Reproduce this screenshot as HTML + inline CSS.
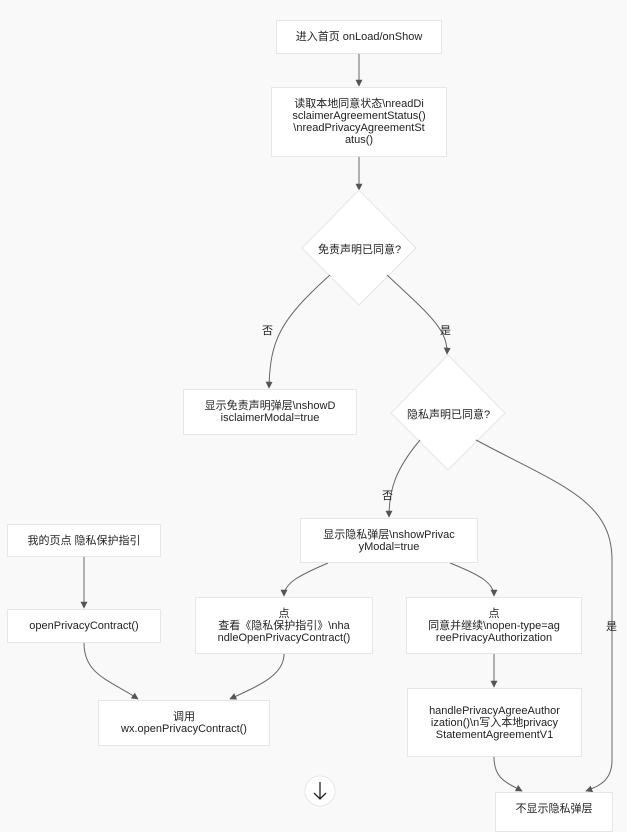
<!DOCTYPE html>
<html><head><meta charset="utf-8"><style>
body{margin:0;width:627px;height:822px;background:#f9f9f9;overflow:hidden;position:relative;font-family:"Liberation Sans","Noto Sans CJK SC",sans-serif;font-size:11px;color:#222}
.b{position:absolute;background:#fff;border:1px solid #e6e6e6;box-sizing:border-box;display:flex;align-items:center;justify-content:center;text-align:center;line-height:12px;padding:0 20px;word-break:break-all}
.b span{display:block}
.t{position:absolute;font-size:11px}
svg{position:absolute;left:0;top:0}
</style></head><body>
<svg width="627" height="822">
<defs>
<marker id="m" viewBox="0 0 10 10" refX="9" refY="5" markerWidth="7" markerHeight="7" orient="auto"><path d="M0,0L10,5L0,10z" fill="#555"/></marker></defs>
<g fill="none" stroke="#666" stroke-width="1">
<path d="M359 54V86" marker-end="url(#m)"/>
<path d="M359 157V190" marker-end="url(#m)"/>
<path d="M359 190L416 248L359 305L302 248Z" fill="#fff" stroke="#e6e6e6"/>
<path d="M448 355L505 413L448 470L391 413Z" fill="#fff" stroke="#e6e6e6"/>
<path d="M330 275C280 320 270 340 269 388" marker-end="url(#m)"/>
<path d="M387 275C430 315 448 330 447 354" marker-end="url(#m)"/>
<path d="M420 440C395 470 389 490 389 517" marker-end="url(#m)"/>
<path d="M476 440C560 485 612 500 612 560V760C612 780 600 786 586 791" marker-end="url(#m)"/>
<path d="M328 563C300 575 284 583 284 596" marker-end="url(#m)"/>
<path d="M450 563C480 575 494 583 494 596" marker-end="url(#m)"/>
<path d="M84 557V608" marker-end="url(#m)"/>
<path d="M84 643C84 675 110 680 138 699" marker-end="url(#m)"/>
<path d="M284 654C284 675 260 685 230 699" marker-end="url(#m)"/>
<path d="M494 654V687" marker-end="url(#m)"/>
<path d="M494 757C494 778 505 782 522 791" marker-end="url(#m)"/>
</g>
<circle cx="320" cy="791" r="15" fill="#fff" stroke="#e6e6e6"/>
<path d="M320 782V799M314 793L320 799L326 793" fill="none" stroke="#222" stroke-width="1.3"/>
</svg>
<div class="b" style="left:276px;top:20px;width:166px;height:34px;padding:0 4px">进入首页 onLoad/onShow</div>
<div class="b" style="left:271px;top:87px;width:176px;height:70px">读取本地同意状态\nreadDisclaimerAgreementStatus()\nreadPrivacyAgreementStatus()</div>
<div class="t" style="left:318px;top:241px">免责声明已同意?</div>
<div class="t" style="left:407px;top:406px">隐私声明已同意?</div>
<div class="t" style="left:262px;top:322px">否</div>
<div class="t" style="left:440px;top:322px">是</div>
<div class="t" style="left:382px;top:487px">否</div>
<div class="t" style="left:606px;top:618px">是</div>
<div class="b" style="left:183px;top:389px;width:174px;height:46px">显示免责声明弹层\nshowDisclaimerModal=true</div>
<div class="b" style="left:300px;top:518px;width:178px;height:45px">显示隐私弹层\nshowPrivacyModal=true</div>
<div class="b" style="left:7px;top:524px;width:154px;height:33px;padding:0 4px">我的页点 隐私保护指引</div>
<div class="b" style="left:7px;top:609px;width:154px;height:34px;padding:0 4px">openPrivacyContract()</div>
<div class="b" style="left:195px;top:597px;width:178px;height:57px"><div><span>点</span>查看《隐私保护指引》\nhandleOpenPrivacyContract()</div></div>
<div class="b" style="left:406px;top:597px;width:176px;height:57px"><div><span>点</span>同意并继续\nopen-type=agreePrivacyAuthorization</div></div>
<div class="b" style="left:98px;top:700px;width:172px;height:46px;padding:0 4px"><div><span>调用</span>wx.openPrivacyContract()</div></div>
<div class="b" style="left:407px;top:688px;width:175px;height:69px">handlePrivacyAgreeAuthorization()\n写入本地privacyStatementAgreementV1</div>
<div class="b" style="left:495px;top:792px;width:118px;height:40px;align-items:flex-start;padding:10px 4px 0">不显示隐私弹层</div>
</body></html>
